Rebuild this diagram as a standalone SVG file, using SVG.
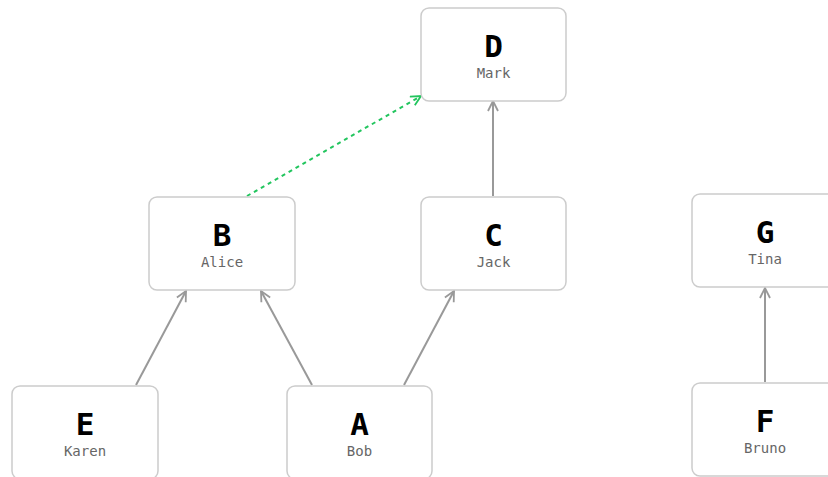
<svg xmlns="http://www.w3.org/2000/svg" width="828" height="477" viewBox="0 0 828 477">
  <style>
    .box { fill: #ffffff; stroke: #cccccc; stroke-width: 1.5; }
    .key { font-family: "DejaVu Sans Mono", "Liberation Mono", monospace; font-weight: bold; font-size: 31px; fill: #000000; text-anchor: middle; }
    .name { font-family: "DejaVu Sans Mono", "Liberation Mono", monospace; font-size: 14px; fill: #666666; text-anchor: middle; }
    .edge { stroke: #999999; stroke-width: 2; fill: none; marker-end: url(#arrow); }
    .dep { stroke: #22c55e; stroke-width: 2; fill: none; stroke-dasharray: 4 4; marker-end: url(#arrow-green); }
  </style>
  <defs>
    <marker id="arrow" viewBox="0 0 12 12" refX="11" refY="6" markerWidth="12" markerHeight="12" markerUnits="userSpaceOnUse" orient="auto">
      <path d="M1,1 L11,6 L1,11" fill="none" stroke="#999999" stroke-width="1.8"/>
    </marker>
    <marker id="arrow-green" viewBox="0 0 12 12" refX="11" refY="6" markerWidth="12" markerHeight="12" markerUnits="userSpaceOnUse" orient="auto">
      <path d="M1,1 L11,6 L1,11" fill="none" stroke="#22c55e" stroke-width="1.8"/>
    </marker>
  </defs>

  <g id="connectors">
    <line class="edge" x1="136" y1="385" x2="186" y2="291"/>
    <line class="edge" x1="312" y1="385" x2="261" y2="291"/>
    <line class="edge" x1="404" y1="385" x2="454" y2="291"/>
    <line class="edge" x1="493" y1="196" x2="493" y2="101"/>
    <line class="edge" x1="765" y1="382" x2="765" y2="288"/>
    <line class="dep" x1="247" y1="196" x2="421" y2="96"/>
  </g>

  <g id="node-D">
    <rect class="box" x="421" y="8" width="145" height="93" rx="8"/>
    <text class="key" x="493.5" y="57">D</text>
    <text class="name" x="493.5" y="78">Mark</text>
  </g>
  <g id="node-B">
    <rect class="box" x="149" y="197" width="146" height="93" rx="8"/>
    <text class="key" x="222" y="246">B</text>
    <text class="name" x="222" y="267">Alice</text>
  </g>
  <g id="node-C">
    <rect class="box" x="421" y="197" width="145" height="93" rx="8"/>
    <text class="key" x="493.5" y="246">C</text>
    <text class="name" x="493.5" y="267">Jack</text>
  </g>
  <g id="node-G">
    <rect class="box" x="692" y="194" width="146" height="93" rx="8"/>
    <text class="key" x="765" y="243">G</text>
    <text class="name" x="765" y="264">Tina</text>
  </g>
  <g id="node-E">
    <rect class="box" x="12" y="386" width="146" height="93" rx="8"/>
    <text class="key" x="85" y="435">E</text>
    <text class="name" x="85" y="456">Karen</text>
  </g>
  <g id="node-A">
    <rect class="box" x="287" y="386" width="145" height="93" rx="8"/>
    <text class="key" x="359.5" y="435">A</text>
    <text class="name" x="359.5" y="456">Bob</text>
  </g>
  <g id="node-F">
    <rect class="box" x="692" y="383" width="146" height="93" rx="8"/>
    <text class="key" x="765" y="432">F</text>
    <text class="name" x="765" y="453">Bruno</text>
  </g>
</svg>
